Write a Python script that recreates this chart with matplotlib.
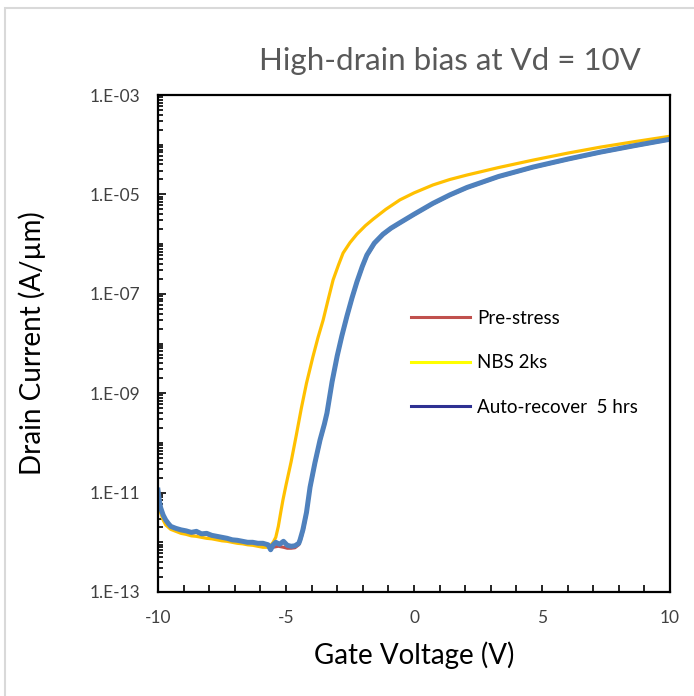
import numpy as np
import matplotlib
matplotlib.use("Agg")
import matplotlib.pyplot as plt
from matplotlib.lines import Line2D
from matplotlib.patches import Rectangle
from matplotlib.ticker import LogLocator, MultipleLocator, NullFormatter

plt.rcParams['font.family'] = ['Lato', 'DejaVu Sans']
plt.rcParams['axes.unicode_minus'] = False

# Id-Vg at Vd = 10 V, log10 of drain current (A/um)
vg_pre = [-10.0, -9.95, -9.9, -9.8, -9.7, -9.6, -9.5, -9.3, -9.1, -8.9, -8.7, -8.5,
          -8.3, -8.1, -7.9, -7.7, -7.5, -7.3, -7.1, -6.9, -6.7, -6.5, -6.3, -6.1,
          -5.9, -5.7, -5.5, -5.3, -5.1, -4.95, -4.8, -4.65, -4.5, -4.4, -4.3, -4.2,
          -4.06, -3.87, -3.67, -3.5, -3.4, -3.2, -3.0, -2.82, -2.62, -2.42, -2.23,
          -2.02, -1.84, -1.55, -1.21, -0.9, -0.55, 0.0, 0.74, 1.4, 2.07, 3.3, 4.65,
          6.0, 7.27, 8.6, 10.0]
log_id_pre = [-11.0, -11.2, -11.32, -11.47, -11.56, -11.63, -11.7, -11.74, -11.77, -11.8,
              -11.82, -11.8, -11.85, -11.84, -11.88, -11.9, -11.92, -11.94, -11.97, -11.98,
              -12.0, -12.02, -12.04, -12.05, -12.06, -12.08, -12.1, -12.08, -12.1, -12.12,
              -12.12, -12.11, -12.05, -11.9, -11.7, -11.42, -10.92, -10.43, -9.97, -9.64,
              -9.42, -8.8, -8.27, -7.87, -7.47, -7.1, -6.78, -6.47, -6.24, -6.0, -5.82,
              -5.69, -5.58, -5.41, -5.19, -5.02, -4.87, -4.65, -4.46, -4.3, -4.16, -4.03,
              -3.9]

vg_nbs = [-10.0, -9.95, -9.9, -9.8, -9.7, -9.5, -9.3, -9.1, -8.9, -8.7, -8.5, -8.3,
          -8.1, -7.9, -7.7, -7.5, -7.3, -7.1, -6.9, -6.7, -6.5, -6.3, -6.1, -5.9,
          -5.75, -5.6, -5.5, -5.4, -5.3, -5.2, -5.12, -5.0, -4.8, -4.6, -4.4, -4.2,
          -3.95, -3.75, -3.55, -3.36, -3.16, -2.95, -2.77, -2.5, -2.23, -1.9, -1.6,
          -1.1, -0.55, 0.0, 0.74, 1.4, 2.07, 3.3, 4.65, 6.0, 7.27, 8.6, 10.0]
log_id_nbs = [-11.05, -11.25, -11.4, -11.55, -11.65, -11.74, -11.78, -11.82, -11.84, -11.87,
              -11.88, -11.9, -11.92, -11.93, -11.95, -11.97, -11.98, -12.0, -12.02, -12.03,
              -12.05, -12.06, -12.08, -12.1, -12.1, -12.06, -12.0, -11.9, -11.68, -11.38,
              -11.15, -10.85, -10.38, -9.85, -9.3, -8.8, -8.27, -7.88, -7.53, -7.13, -6.72,
              -6.42, -6.18, -5.97, -5.8, -5.63, -5.5, -5.3, -5.11, -4.97, -4.81, -4.7,
              -4.61, -4.46, -4.31, -4.17, -4.05, -3.94, -3.83]

vg_rec = [-10.0, -9.95, -9.9, -9.8, -9.7, -9.6, -9.5, -9.3, -9.1, -8.9, -8.7, -8.5,
          -8.3, -8.1, -7.9, -7.7, -7.5, -7.3, -7.1, -6.9, -6.7, -6.5, -6.3, -6.1,
          -5.9, -5.7, -5.6, -5.5, -5.4, -5.25, -5.1, -4.95, -4.8, -4.65, -4.5, -4.45,
          -4.34, -4.2, -4.06, -3.87, -3.67, -3.5, -3.4, -3.2, -3.0, -2.82, -2.62,
          -2.42, -2.23, -2.02, -1.84, -1.55, -1.21, -0.9, -0.55, 0.0, 0.74, 1.4, 2.07,
          3.3, 4.65, 6.0, 7.27, 8.6, 10.0]
log_id_rec = [-10.95, -11.15, -11.3, -11.45, -11.55, -11.62, -11.68, -11.72, -11.75, -11.77,
              -11.8, -11.78, -11.83, -11.82, -11.86, -11.88, -11.9, -11.92, -11.95, -11.96,
              -11.98, -12.0, -12.0, -12.02, -12.02, -12.05, -12.15, -12.05, -12.0, -12.04,
              -11.98, -12.06, -12.08, -12.07, -12.02, -11.95, -11.75, -11.4, -10.89, -10.4,
              -9.94, -9.62, -9.4, -8.77, -8.25, -7.85, -7.45, -7.08, -6.76, -6.45, -6.22,
              -5.98, -5.8, -5.68, -5.57, -5.4, -5.18, -5.01, -4.86, -4.64, -4.45, -4.29,
              -4.15, -4.02, -3.89]

labels = ["Pre-stress", "NBS 2ks", "Auto-recover  5 hrs"]
line_colors = ["#c0504d", "#ffc000", "#4f81bd"]
legend_colors = ["#c0504d", "#ffff00", "#2e3192"]
ytick_vals = [1e-13, 1e-11, 1e-9, 1e-7, 1e-5, 1e-3]
ytick_text = ["1.E-13", "1.E-11", "1.E-09", "1.E-07", "1.E-05", "1.E-03"]

fig = plt.figure(figsize=(6.94, 6.96), dpi=100)
ax = fig.add_axes([158 / 694, 1 - 592 / 696, 512 / 694, 497 / 696])

ax.plot(vg_pre, 10.0 ** np.array(log_id_pre), color=line_colors[0], lw=2.2)
ax.plot(vg_nbs, 10.0 ** np.array(log_id_nbs), color=line_colors[1], lw=2.3)
ax.plot(vg_rec, 10.0 ** np.array(log_id_rec), color=line_colors[2], lw=3.6)

ax.set_yscale('log')
ax.set_xlim(-10, 10)
ax.set_ylim(1e-13, 1e-3)
ax.set_xticks([-10, -5, 0, 5, 10])
ax.xaxis.set_minor_locator(MultipleLocator(1))
ax.set_yticks(ytick_vals)
ax.set_yticklabels(ytick_text)
ax.yaxis.set_minor_locator(LogLocator(base=10, subs=np.arange(1, 10), numticks=50))
ax.yaxis.set_minor_formatter(NullFormatter())

ax.tick_params(which='both', direction='in', color='black', width=1.2,
               top=False, right=False, labelsize=12.5, labelcolor='#404040')
ax.tick_params(axis='x', which='both', length=5, pad=13)
ax.tick_params(axis='y', which='major', length=6, pad=13)
ax.tick_params(axis='y', which='minor', length=3.5)
for s in ax.spines.values():
    s.set_linewidth(1.6)
    s.set_color('black')

ax.set_xlabel("Gate Voltage (V)", fontsize=20)
ax.set_ylabel("Drain Current (A/\u00b5m)", fontsize=20)
ax.xaxis.set_label_coords(0.5, (592 - 641) / 497)
ax.yaxis.set_label_coords((46 - 158) / 512, 0.5)
fig.text(0.648, 0.913, "High-drain bias at Vd = 10V", fontsize=22.5, color='#595959',
         ha='center', va='center')

handles = [Line2D([], [], color=c, lw=2.2) for c in legend_colors]
ax.legend(handles, labels, loc='upper left', bbox_to_anchor=(0.494, 0.5675),
          frameon=False, fontsize=13.5, handlelength=3.15, handletextpad=0.4,
          labelspacing=1.46, borderpad=0, borderaxespad=0)

# light outer frame of the panel
fig.add_artist(Rectangle((5 / 694, -0.05), 1.1, 1 - 8 / 696 + 0.05,
                         transform=fig.transFigure, fill=False,
                         edgecolor='#d9d9d9', lw=1.5))

fig.savefig('out.png', dpi=100)
